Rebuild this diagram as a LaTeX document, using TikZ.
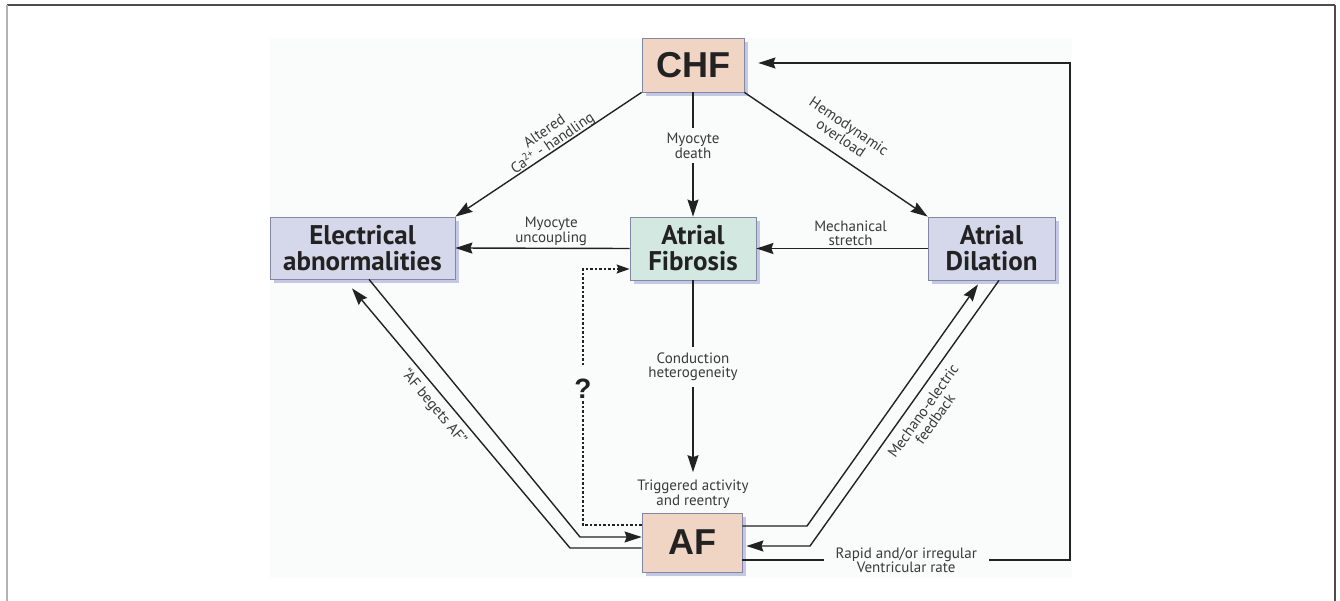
\documentclass[tikz,border=0pt]{standalone}
\usepackage{fontspec}
\setmainfont{PT Sans}
\newfontfamily\hvfont{Liberation Sans}
\usetikzlibrary{arrows.meta,shadows,calc}
\definecolor{bgc}{HTML}{FAFBFB}
\definecolor{peach}{HTML}{F0D5C4}
\definecolor{lav}{HTML}{D5D8EA}
\definecolor{mint}{HTML}{D4E8E2}
\definecolor{boxline}{HTML}{8288A2}
\definecolor{shadowc}{HTML}{C5C8E4}
\definecolor{txt}{HTML}{222222}
\definecolor{lblc}{HTML}{3A3A3A}
\definecolor{linec}{HTML}{222222}
\begin{document}
\begin{tikzpicture}[x=1pt,y=-1pt,
  boxbase/.style={draw=boxline, line width=0.8pt, inner sep=0pt, align=center, text=txt,
    drop shadow={shadow xshift=4pt, shadow yshift=-4pt, fill=shadowc, opacity=1}},
  pbox/.style={boxbase, fill=peach, font={\fontsize{36}{36}\hvfont\bfseries}},
  bbox/.style={boxbase, font={\fontsize{27}{26}\selectfont\bfseries}},
  lbl/.style={font={\fontsize{15}{14.5}\selectfont}, text=lblc, align=center, inner sep=1pt},
  arr/.style={line width=1.4pt, draw=linec, -{Stealth[length=17pt,width=11pt,inset=2pt]}},
  dotline/.style={line width=1.3pt, draw=linec, dash pattern=on 2.5pt off 2pt},
  dotarr/.style={dotline, -{Stealth[length=13pt,width=9pt,inset=2pt]}}
]
\useasboundingbox (0,0) rectangle (1340,601);
\fill[white] (0,0) rectangle (1340,601);
% frame
\draw[line width=1.5pt, draw=black!70] (7,5) -- (1335,5);
\draw[line width=2pt, draw=black!30] (7,5) -- (7,601);
\draw[line width=1.5pt, draw=black!70] (1335,5) -- (1335,601);
% diagram background
\fill[bgc] (270,38) rectangle (1072,578);

% nodes
\node[pbox, minimum width=102pt, minimum height=54pt] (CHF) at (693,65) {CHF};
\node[bbox, fill=lav, minimum width=185pt, minimum height=62pt] (Elec) at (362.5,248) {Electrical\\abnormalities};
\node[bbox, fill=mint, minimum width=126pt, minimum height=63pt] (Fib) at (693,248.5) {Atrial\\Fibrosis};
\node[bbox, fill=lav, minimum width=127pt, minimum height=63pt] (Dil) at (991.5,248.5) {Atrial\\Dilation};
\node[pbox, minimum width=100pt, minimum height=59pt] (AF) at (692,542.5) {AF};
\node[lbl] (trig) at (693,494) {Triggered activity\\and reentry};
\node[font={\fontsize{28}{28}\hvfont\bfseries}, text=txt, inner sep=0pt] (q) at (583,389) {?};

% corner coordinates
\coordinate (bA) at (580,537);
\coordinate (bB) at (570,548);
\coordinate (mA) at (807,526);
\coordinate (mB) at (810,546);
\coordinate (rc) at (1070,560);

% CHF outgoing
\draw[arr] (CHF.south west) -- (Elec.north east);
\draw[arr] (CHF.south east) -- (Dil.north west);
\draw[arr] (CHF.south) -- node[lbl, fill=bgc, pos=0.43, inner ysep=5pt] {Myocyte\\death} (Fib.north);
\node[lbl, rotate=34.3] (lca) at (549,138) {Altered\\Ca\textsuperscript{2+} - handling};
\node[lbl, rotate=-34.1] (lhe) at (845,132) {Hemodynamic\\overload};

% horizontal
\draw[arr] (Fib.west) -- node[lbl, above=1pt, pos=0.45] {Myocyte\\uncoupling} (Elec.east);
\draw[arr] (Dil.west) -- node[lbl, above=1pt, pos=0.45] {Mechanical\\stretch} (Fib.east);

% Fibrosis to AF
\draw[arr] (Fib.south) -- node[lbl, fill=bgc, pos=0.45, inner ysep=6pt] {Conduction\\heterogeneity} ([yshift=6.5pt]trig.north);

% dotted question path
\draw[dotline] ([yshift=17.5pt]AF.west) -| ([yshift=-2pt]q.south);
\draw[dotarr] ([yshift=14pt]q.north) |- ([yshift=-20.5pt]Fib.west);

% AF begets AF
\draw[arr] ([xshift=6.5pt]Elec.south) -- (bA) -- ([yshift=5.5pt]AF.west);
\draw[arr] ([yshift=-5.5pt]AF.west) -- (bB) -- ([xshift=-10.5pt,yshift=-9pt]Elec.south);
\node[lbl, rotate=-50] (lbeg) at (434,407) {“AF begets AF”};

% Mechano-electric feedback
\draw[arr] ([yshift=16.5pt]AF.east) -- (mA) -- ([xshift=-13.5pt,yshift=-4pt]Dil.south);
\draw[arr] ([xshift=7.5pt]Dil.south) -- (mB) -- ([xshift=4pt,yshift=-3.5pt]AF.east);
\node[lbl, rotate=54.7] (lmech) at (929,415) {Mechano-electric\\feedback};

% rapid ventricular rate
\draw[arr] ([yshift=-17.5pt]AF.east) -- node[lbl, fill=bgc, pos=0.5, inner xsep=12pt, inner ysep=4pt] {Rapid and/or irregular\\Ventricular rate} (rc) |- ([xshift=14pt,yshift=2pt]CHF.east);
\end{tikzpicture}
\end{document}
